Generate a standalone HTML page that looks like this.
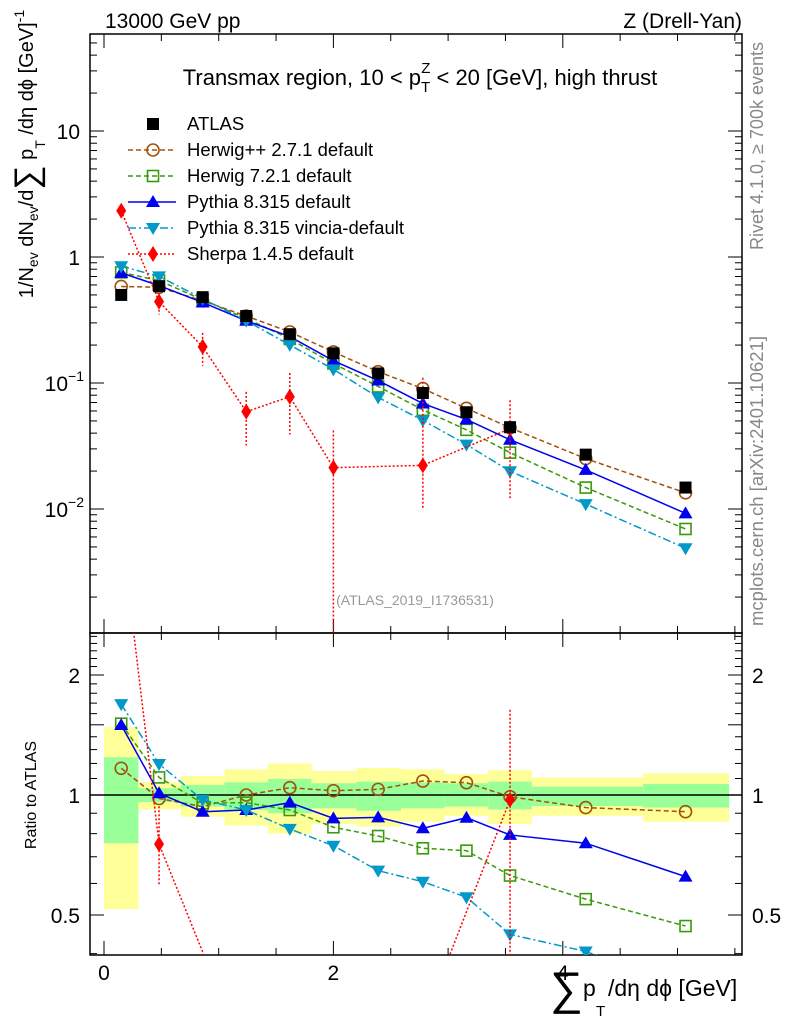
<!DOCTYPE html>
<html><head><meta charset="utf-8">
<style>
body{margin:0;background:#fff;overflow:hidden;}
svg{display:block;font-family:"Liberation Sans",sans-serif;}
</style></head>
<body>
<svg id="chart" width="786" height="1024" viewBox="0 0 786 1024" xmlns="http://www.w3.org/2000/svg">
<text x="105" y="28" font-size="21">13000 GeV pp</text>
<text x="742" y="28" font-size="21" text-anchor="end">Z (Drell-Yan)</text>
<text x="420" y="85" font-size="22" text-anchor="middle">Transmax region, 10 &lt; p<tspan font-size="15" dy="7">T</tspan><tspan font-size="15" dx="-9" dy="-19">Z</tspan><tspan dy="12"> &lt; 20 [GeV], high thrust</tspan></text>
<text transform="translate(763,146) rotate(-90)" font-size="18" fill="#888" text-anchor="middle">Rivet 4.1.0, ≥ 700k events</text>
<text transform="translate(763,481) rotate(-90)" font-size="18.5" fill="#888" text-anchor="middle">mcplots.cern.ch [arXiv:2401.10621]</text>
<text x="415" y="605" font-size="14" fill="#999" text-anchor="middle">(ATLAS_2019_I1736531)</text>
<g transform="translate(33,154) rotate(-90)">
<text x="0" y="0" font-size="20" text-anchor="middle">1/N<tspan font-size="14" dy="5">ev</tspan><tspan dy="-5"> dN</tspan><tspan font-size="14" dy="5">ev</tspan><tspan dy="-5">/d</tspan><tspan font-size="34" dy="5">∑</tspan><tspan dy="-5"> p</tspan><tspan font-size="14" dy="12">T</tspan><tspan dy="-12"> /dη dϕ  [GeV]</tspan><tspan font-size="14" dy="-9">-1</tspan></text>
</g>
<text transform="translate(36,795) rotate(-90)" font-size="16" text-anchor="middle">Ratio to ATLAS</text>
<g>
<text x="550" y="1004" font-size="46">∑</text>
<text x="583" y="996" font-size="23">p</text>
<text x="596" y="1016" font-size="15">T</text>
<text x="608" y="996" font-size="23">/dη dϕ [GeV]</text>
</g>
</svg>
<script>
const xs = [0.15,0.48,0.86,1.24,1.62,2.0,2.39,2.78,3.16,3.54,4.2,5.07];
const edges = [0,0.3,0.67,1.05,1.43,1.81,2.2,2.59,2.97,3.35,3.73,4.7,5.45];
const atlas = [0.50,0.587,0.48,0.34,0.244,0.172,0.119,0.0833,0.0586,0.0446,0.027,0.0148];
const yellowUp = [1.48,1.076,1.116,1.16,1.2,1.149,1.169,1.16,1.129,1.155,1.107,1.133];
const yellowDn = [0.517,0.92,0.882,0.838,0.8,0.846,0.833,0.857,0.886,0.846,0.887,0.857];
const greenUp = [1.243,1.04,1.06,1.076,1.097,1.07,1.08,1.074,1.07,1.08,1.049,1.066];
const greenDn = [0.757,0.96,0.935,0.917,0.9,0.926,0.913,0.926,0.935,0.92,0.938,0.93];
const rHerwigpp = [1.167,0.98,0.935,1.0,1.043,1.025,1.033,1.084,1.074,0.99,0.93,0.908];
const rHerwig7 = [1.51,1.107,0.953,0.957,0.917,0.83,0.789,0.735,0.725,0.628,0.548,0.469];
const rPythia = [1.498,1.01,0.908,0.917,0.957,0.874,0.879,0.825,0.877,0.794,0.757,0.624];
const rVincia = [1.69,1.196,0.972,0.917,0.822,0.746,0.646,0.606,0.554,0.447,0.405,0.33];
const sherpa = [2.33,0.442,0.194,0.0592,0.0778,0.0213,null,0.0222,null,0.0434,null,null];
const sherpaHi = [null,0.55,0.25,0.085,0.12,0.042,null,0.11,null,0.073,null,null];
const sherpaLo = [null,0.35,0.137,0.032,0.039,0.0005,null,0.010,null,0.0122,null,null];
const mainTicks = ["10","1"];

const svg = document.getElementById('chart');
const NS = 'http://www.w3.org/2000/svg';
const L=90,R=742,T=34,MB=633,RB=955;
function X(v){return 104+v*114.7;}
function Ym(v){return 257-126*Math.log10(v);}
function Yr(v){return 795-120*Math.log2(v);}
function mk(tag,attrs,parent){const e=document.createElementNS(NS,tag);for(const k in attrs)e.setAttribute(k,attrs[k]);(parent||svg).appendChild(e);return e;}

const defs=mk('defs',{});
const c1=mk('clipPath',{id:'cm'},defs);mk('rect',{x:L,y:T,width:R-L,height:MB-T},c1);
const c2=mk('clipPath',{id:'cr'},defs);mk('rect',{x:L,y:MB,width:R-L,height:RB-MB},c2);

const bands=mk('g',{'clip-path':'url(#cr)'});


for(let i=0;i<xs.length;i++){
  const x0=X(edges[i]),x1=X(edges[i+1]);
  const y=mk('rect',{x:x0,y:Yr(yellowUp[i]),width:x1-x0,height:Yr(yellowDn[i])-Yr(yellowUp[i]),fill:'#ffff99'},bands);
  
  
  const g=mk('rect',{x:x0,y:Yr(greenUp[i]),width:x1-x0,height:Yr(greenDn[i])-Yr(greenUp[i]),fill:'#99ff99'},bands);
  
  
}
const one=mk('line',{x1:L,x2:R,y1:Yr(1),y2:Yr(1),stroke:'#000','stroke-width':1.5});



function frame(y0,y1,name){
  const r=mk('rect',{x:L,y:y0,width:R-L,height:y1-y0,fill:'none',stroke:'#000','stroke-width':1.5});
  
  
  for(let v=0;v<=5.5;v+=0.5){
    const big=Math.abs(v%2)<0.01; const len=big?14:7; const x=X(v);
    mk('line',{x1:x,x2:x,y1:y1,y2:y1-len,stroke:'#000'});
    mk('line',{x1:x,x2:x,y1:y0,y2:y0+len,stroke:'#000'});
  }
}
frame(T,MB,'main-plot-frame');
frame(MB,RB,'ratio-plot-frame');
for(let e=-3;e<=1;e++){for(let m=1;m<10;m++){const v=m*Math.pow(10,e);const y=Ym(v);if(y<T||y>MB)continue;const len=m==1?14:7;
  mk('line',{x1:L,x2:L+len,y1:y,y2:y,stroke:'#000'});mk('line',{x1:R,x2:R-len,y1:y,y2:y,stroke:'#000'});}}
const yl=mk('g',{'font-size':21,'text-anchor':'end'});


mk('text',{x:80,y:Ym(10)+8},yl).textContent=mainTicks[0];
mk('text',{x:80,y:Ym(1)+8},yl).textContent=mainTicks[1];
[[-1,0.1],[-2,0.01]].forEach(([e,v])=>{const t=mk('text',{x:84,y:Ym(v)+8},yl);t.innerHTML='10<tspan font-size="14" dy="-10">'+(e==-1?'−1':'−2')+'</tspan>';});
for(let v=0.4;v<=2.55;v+=0.1){const y=Yr(v);if(y<MB||y>RB)continue;const big=[0.5,1,1.5,2].some(b=>Math.abs(b-v)<0.01)?14:7;
  mk('line',{x1:L,x2:L+big,y1:y,y2:y,stroke:'#000'});mk('line',{x1:R,x2:R-big,y1:y,y2:y,stroke:'#000'});}
const rl=mk('g',{'font-size':21});


[['2',2],['1',1],['0.5',0.5]].forEach(([s,v])=>{mk('text',{x:80,y:Yr(v)+8,'text-anchor':'end'},rl).textContent=s;mk('text',{x:752,y:Yr(v)+8},rl).textContent=s;});
const xl=mk('g',{'font-size':21,'text-anchor':'middle'});


[0,2,4].forEach(v=>{mk('text',{x:X(v),y:980},xl).textContent=String(v);});

function marker(g,type,x,y,color){
  if(type=='sq')mk('rect',{x:x-6,y:y-6,width:12,height:12,fill:'#000'},g);
  else if(type=='osq')mk('rect',{x:x-5.5,y:y-5.5,width:11,height:11,fill:'none',stroke:color,'stroke-width':1.6},g);
  else if(type=='circ')mk('circle',{cx:x,cy:y,r:6,fill:'none',stroke:color,'stroke-width':1.6},g);
  else if(type=='tri')mk('polygon',{points:`${x},${y-7} ${x-7},${y+5} ${x+7},${y+5}`,fill:color},g);
  else if(type=='itri')mk('polygon',{points:`${x},${y+7} ${x-7},${y-5} ${x+7},${y-5}`,fill:color},g);
  else if(type=='dia')mk('polygon',{points:`${x},${y-8} ${x-5},${y} ${x},${y+8} ${x+5},${y}`,fill:color},g);
}
const series=[
 {name:'herwigpp',r:rHerwigpp,color:'#a0520f',dash:'5,3',type:'circ'},
 {name:'herwig7',r:rHerwig7,color:'#3a9a0a',dash:'5,3',type:'osq'},
 {name:'pythia',r:rPythia,color:'#0000ee',dash:'',type:'tri'},
 {name:'vincia',r:rVincia,color:'#0099c8',dash:'8,3,2,3',type:'itri'},
];
function drawLine(g,pts,color,dash,w){
  let segs=[],cur=[];pts.forEach(p=>{if(p)cur.push(p);else{if(cur.length)segs.push(cur);cur=[];}});if(cur.length)segs.push(cur);
  segs.forEach(s=>mk('polyline',{points:s.map(p=>p.join(',')).join(' '),fill:'none',stroke:color,'stroke-width':w||1.5,'stroke-dasharray':dash},g));
}
series.forEach(s=>{
  const gm=mk('g',{'clip-path':'url(#cm)'});
  
  
  const pm=s.r.map((r,i)=>r==null?null:[X(xs[i]),Ym(r*atlas[i])]);
  drawLine(gm,pm,s.color,s.dash);
  pm.forEach(p=>{if(p)marker(gm,s.type,p[0],p[1],s.color);});
  const gr=mk('g',{'clip-path':'url(#cr)'});
  
  
  const pr=s.r.map((r,i)=>r==null?null:[X(xs[i]),Yr(r)]);
  drawLine(gr,pr,s.color,s.dash);
  pr.forEach(p=>{if(p)marker(gr,s.type,p[0],p[1],s.color);});
});
const sc='#ff0000';
const gs=mk('g',{'clip-path':'url(#cm)'});


const spts=[];sherpa.forEach((v,i)=>{if(v!=null)spts.push([X(xs[i]),Ym(v)]);});
drawLine(gs,spts,sc,'2,2');
sherpa.forEach((v,i)=>{if(v==null)return;const x=X(xs[i]);
  if(sherpaHi[i]!=null)mk('line',{x1:x,x2:x,y1:Ym(sherpaHi[i]),y2:Ym(sherpaLo[i]),stroke:sc,'stroke-dasharray':'2,2','stroke-width':1.5},gs);
  marker(gs,'dia',x,Ym(v),sc);});
const gsr=mk('g',{'clip-path':'url(#cr)'});


const srp=[];sherpa.forEach((v,i)=>{if(v!=null)srp.push([X(xs[i]),Yr(v/atlas[i])]);});
drawLine(gsr,srp,sc,'2,2');
sherpa.forEach((v,i)=>{if(v==null)return;const x=X(xs[i]);const yy=Yr(v/atlas[i]);if(yy<MB+5||yy>RB-10)return;
  if(sherpaHi[i]!=null)mk('line',{x1:x,x2:x,y1:Yr(sherpaHi[i]/atlas[i]),y2:Yr(sherpaLo[i]/atlas[i]),stroke:sc,'stroke-dasharray':'2,2','stroke-width':1.5},gsr);
  marker(gsr,'dia',x,yy,sc);});
const ga=mk('g',{'clip-path':'url(#cm)'});


atlas.forEach((v,i)=>marker(ga,'sq',X(xs[i]),Ym(v),'#000'));

const labels=['ATLAS','Herwig++ 2.7.1 default','Herwig 7.2.1 default','Pythia 8.315 default','Pythia 8.315 vincia-default','Sherpa 1.4.5 default'];
const lt=[['sq','#000',null],['circ','#a0520f','5,3'],['osq','#3a9a0a','5,3'],['tri','#0000ee',''],['itri','#0099c8','8,3,2,3'],['dia','#ff0000','2,2']];
const lg=mk('g',{});


labels.forEach((s,i)=>{const y=124+i*26;const e=mk('g',{},lg);
  
  
  if(lt[i][2]!=null)mk('line',{x1:128,x2:176,y1:y,y2:y,stroke:lt[i][1],'stroke-width':1.5,'stroke-dasharray':lt[i][2]},e);
  marker(e,lt[i][0],153,y,lt[i][1]);
  mk('text',{x:187,y:y+6,'font-size':18.5},e).textContent=s;});
</script>
</body></html>
